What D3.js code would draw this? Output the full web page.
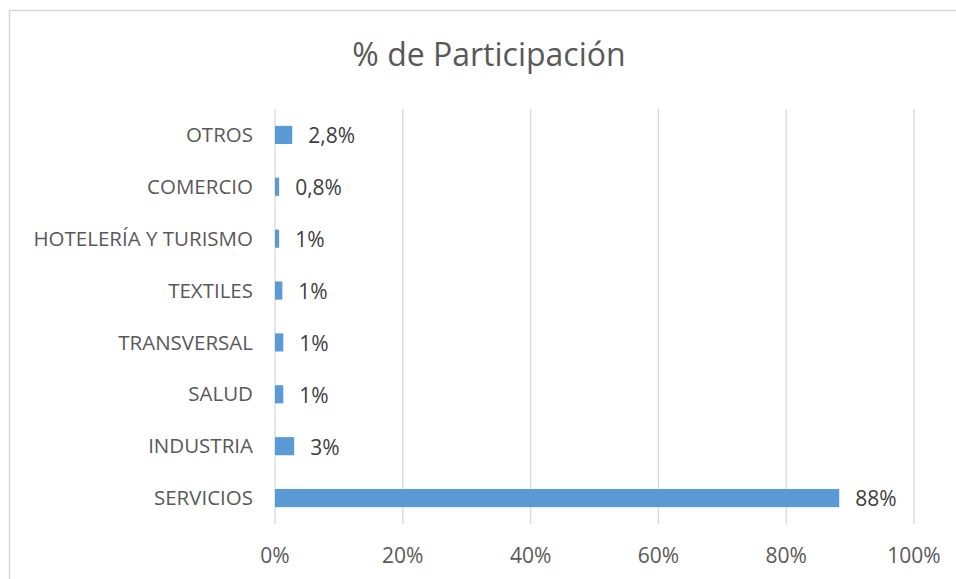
<!DOCTYPE html>
<html><head><meta charset="utf-8">
<script src="https://cdn.jsdelivr.net/npm/d3@7"></script>
<style>body{margin:0;background:#fff}svg{display:block}</style>
</head><body>
<script>
const categories = ["OTROS","COMERCIO","HOTELERÍA Y TURISMO","TEXTILES","TRANSVERSAL","SALUD","INDUSTRIA","SERVICIOS"];
const values = [2.7, 0.65, 0.65, 1.15, 1.3, 1.3, 3.0, 88.3];
const valueLabels = ["2,8%","0,8%","1%","1%","1%","1%","3%","88%"];
const xTicks = [0,20,40,60,80,100];
const title = "% de Participación";

const W=956,H=579;
const font="'Open Sans', 'Noto Sans', sans-serif";
const svg=d3.select("body").append("svg").attr("width",W).attr("height",H);
svg.append("rect").attr("x",9.5).attr("y",10.5).attr("width",W+10).attr("height",H+10)
  .attr("fill","#fff").attr("stroke","#d9d9d9").attr("stroke-width",1.5);

const x=d3.scaleLinear().domain([0,100]).range([275,914]);
const y=d3.scaleBand().domain(categories).range([109,524]).paddingInner(0.65).paddingOuter(0.325);

svg.append("g").selectAll("line").data(xTicks).join("line")
  .attr("x1",d=>x(d)).attr("x2",d=>x(d)).attr("y1",109).attr("y2",524)
  .attr("stroke","#d9d9d9").attr("stroke-width",1.3);

svg.append("g").selectAll("rect").data(values).join("rect")
  .attr("x",x(0)).attr("y",(d,i)=>y(categories[i])).attr("width",d=>x(d)-x(0))
  .attr("height",y.bandwidth()).attr("fill","#5b9bd5");

svg.append("g").selectAll("text").data(values).join("text")
  .attr("x",d=>x(d)+16).attr("y",(d,i)=>y(categories[i])+y.bandwidth()/2+1)
  .attr("dy","0.35em").attr("font-family",font).attr("font-size",21).attr("fill","#404040")
  .text((d,i)=>valueLabels[i]);

svg.append("g").selectAll("text").data(categories).join("text")
  .attr("x",253).attr("y",d=>y(d)+y.bandwidth()/2).attr("dy","0.35em")
  .attr("text-anchor","end").attr("font-family",font).attr("font-size",20.5).attr("fill","#595959")
  .attr("textLength",null)
  .text(d=>d);

svg.append("g").selectAll("text").data(xTicks).join("text")
  .attr("x",d=>x(d)).attr("y",556).attr("dy","0.35em").attr("text-anchor","middle")
  .attr("font-family",font).attr("font-size",21).attr("fill","#595959")
  .text(d=>d+"%");

svg.append("text").attr("x",489).attr("y",55).attr("dy","0.35em").attr("text-anchor","middle")
  .attr("font-family",font).attr("font-size",32).attr("fill","#595959").text(title);
</script>
</body></html>
